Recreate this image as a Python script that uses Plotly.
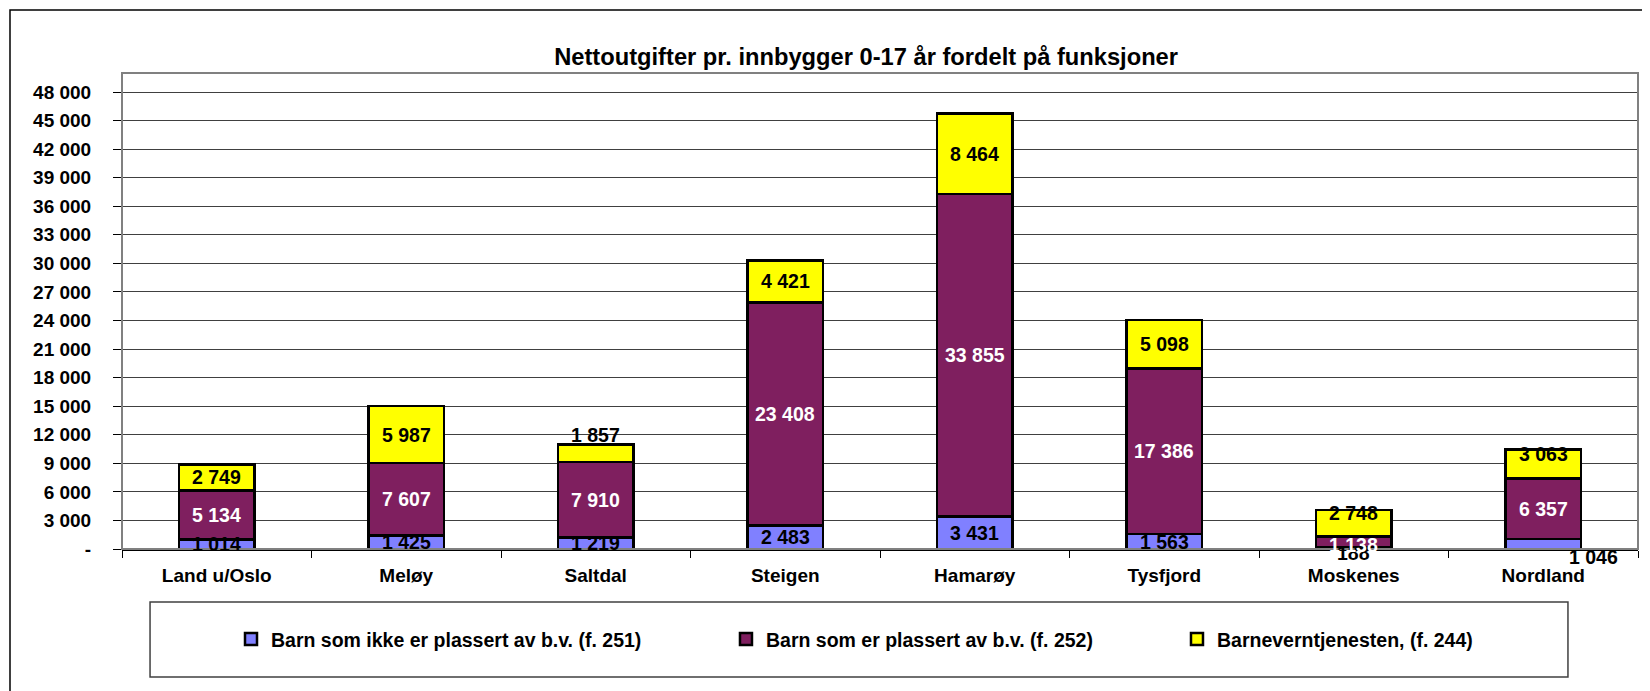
import plotly.graph_objects as go

# ---------------- data ----------------
categories = ["Land u/Oslo", "Meløy", "Saltdal", "Steigen", "Hamarøy", "Tysfjord", "Moskenes", "Nordland"]
ikke_plassert = [1014, 1425, 1219, 2483, 3431, 1563, 188, 1046]      # f. 251
plassert = [5134, 7607, 7910, 23408, 33855, 17386, 1138, 6357]       # f. 252
barnevern = [2749, 5987, 1857, 4421, 8464, 5098, 2748, 3063]         # f. 244
series_names = [
    "Barn som ikke er plassert av b.v. (f. 251)",
    "Barn som er plassert av b.v. (f. 252)",
    "Barneverntjenesten, (f. 244)",
]
tick_values = list(range(0, 48001, 3000))
tick_labels = ["-"] + [f"{v:,}".replace(",", " ") for v in tick_values[1:]]
title_text = "Nettoutgifter pr. innbygger 0-17 år fordelt på funksjoner"

# ---------------- style ----------------
FONT = "Liberation Sans, Arial, sans-serif"
colors = ["#8080FF", "#7F1F5F", "#FFFF00"]
label_colors = ["black", "white", "black"]
legend_ids = ["legend", "legend2", "legend3"]
legend_x = [0.0719, 0.3984, 0.6959]
# manual label nudges (pixels) as in the original chart: (series, category) -> (xshift, yshift)
label_nudge = {(2, 2): (0, 18), (2, 6): (0, 10), (0, 6): (0, -5), (1, 6): (0, -3),
               (2, 7): (0, 10), (0, 7): (50, -13)}

series = [ikke_plassert, plassert, barnevern]

fig = go.Figure()
for i, (name, vals) in enumerate(zip(series_names, series)):
    fig.add_trace(go.Bar(
        x=categories, y=vals, name=name,
        marker=dict(color=colors[i], line=dict(color="black", width=2.5)),
        legend=legend_ids[i],
        hoverinfo="skip",
    ))

annotations = []
for j, cat in enumerate(categories):
    base = 0
    for i, vals in enumerate(series):
        v = vals[j]
        dx, dy = label_nudge.get((i, j), (0, 0))
        annotations.append(dict(
            x=cat, y=base + v / 2, xref="x", yref="y",
            text=f"{v:,}".replace(",", " "), showarrow=False,
            xanchor="center", yanchor="middle", xshift=dx, yshift=dy,
            font=dict(family=FONT, size=19.5, color=label_colors[i], weight="bold"),
        ))
        base += v

shapes = [
    # outer chart frame
    dict(type="rect", xref="paper", yref="paper", x0=-0.07388, x1=1.00594, y0=-0.3172, y1=1.13235,
         line=dict(color="black", width=1.5), layer="below"),
    # plot area frame
    dict(type="rect", xref="paper", yref="paper", x0=0, x1=1, y0=0, y1=1,
         line=dict(color="#808080", width=2), layer="above"),
    # legend frame
    dict(type="rect", xref="paper", yref="paper", x0=0.0185, x1=0.9538, y0=-0.2689, y1=-0.1113,
         line=dict(color="#404040", width=1.5)),
]

legend_common = dict(orientation="h", yanchor="middle", y=-0.19, xanchor="left",
                     bgcolor="rgba(0,0,0,0)", borderwidth=0,
                     font=dict(family=FONT, size=19.5, color="black", weight="bold"))
layout_legends = {}
for lid, lx in zip(legend_ids, legend_x):
    layout_legends[lid] = dict(legend_common, x=lx)

fig.update_layout(
    width=1642, height=683,
    margin=dict(l=114, r=12, t=65, b=142, pad=0, autoexpand=False),
    paper_bgcolor="white", plot_bgcolor="white",
    barmode="stack", bargap=0.6,
    title=dict(text=title_text, x=0.5226, xref="container", xanchor="center",
               y=1 - 49 / 683, yref="container", yanchor="middle",
               font=dict(family=FONT, size=23.7, color="black", weight="bold")),
    font=dict(family=FONT, size=19, color="black", weight="bold"),
    showlegend=True,
    annotations=annotations,
    shapes=shapes,
    **layout_legends,
)
fig.update_xaxes(
    type="category", showgrid=False, showline=True, linecolor="black", linewidth=2,
    ticks="outside", tickson="boundaries", ticklen=7, tickcolor="black", tickwidth=1,
    ticklabelstandoff=8,
    tickfont=dict(family=FONT, size=19, color="black", weight="bold"),
)
fig.update_yaxes(
    range=[0, 50000], tickmode="array", tickvals=tick_values, ticktext=tick_labels,
    showgrid=True, gridcolor="#404040", gridwidth=1, zeroline=False, showline=False,
    ticks="outside", ticklen=8, tickcolor="black", tickwidth=1, ticklabelstandoff=18,
    tickfont=dict(family=FONT, size=19, color="black", weight="bold"),
)

fig.write_html("out.html")
